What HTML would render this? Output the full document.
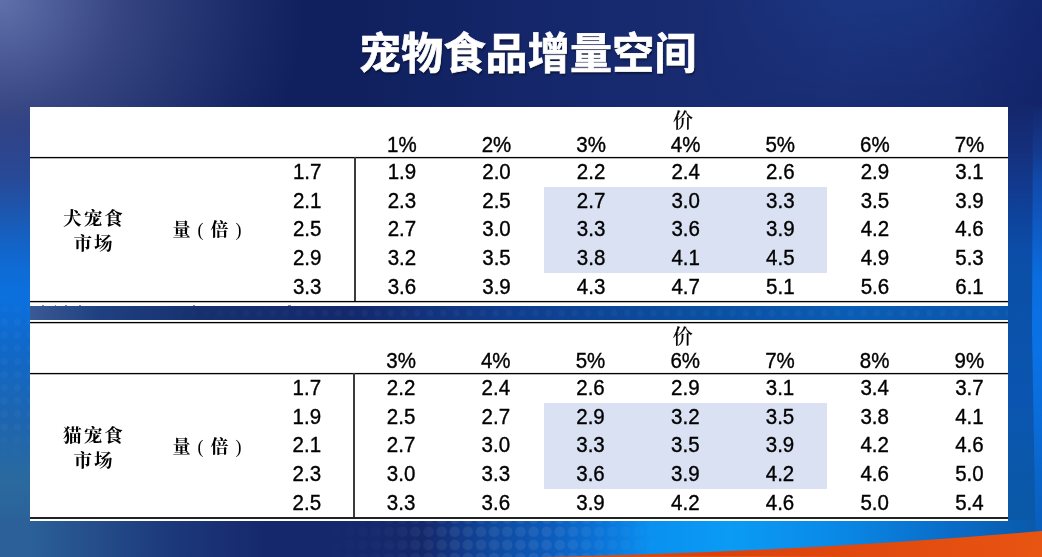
<!DOCTYPE html>
<html lang="zh-CN">
<head>
<meta charset="utf-8">
<title>宠物食品增量空间</title>
<style>
html,body{margin:0;padding:0;}
body{width:1042px;height:557px;overflow:hidden;position:relative;background:#17286a;font-family:"Liberation Sans","Noto Sans CJK SC",sans-serif;}
#bg{position:absolute;left:0;top:0;width:1042px;height:557px;overflow:hidden;
 background:
  radial-gradient(ellipse 305px 290px at 0px 0px, rgba(104,120,178,0.91) 0%, rgba(104,120,178,0.43) 39%, rgba(104,120,178,0.25) 61%, rgba(104,120,178,0.1) 82%, rgba(104,120,178,0) 100%),
  linear-gradient(90deg,#11205f 0%,#10205e 34%,#172a70 60%,#1a2e75 80%,#182b71 91%,#13246a 100%);}
#bg div{position:absolute;}
#b-left{left:0;top:107px;width:31px;height:450px;
 background:linear-gradient(180deg,rgba(50,72,142,0) 0px,rgba(46,70,144,0.85) 40px,#274a98 73px,#1d56ae 103px,#1462c4 133px,#0e6cd6 163px,#0b70de 190px,#1068c8 243px,#1d65b0 313px,#2a6a9f 373px,#2b5f98 423px,#274f8d 450px);}
#b-right{left:1007px;top:107px;width:35px;height:450px;
 background:linear-gradient(180deg,#14276d 0px,#152f7c 43px,#103e95 93px,#0b4da8 143px,#0a50a8 183px,#0b55b0 293px,#0a58a8 393px,#0a58a8 450px);}
#b-mid{left:30px;top:300px;width:978px;height:25px;
 background:linear-gradient(90deg,#3a5a95 0px,#1f4080 70px,#16306f 170px,#14286c 320px,#103c8c 470px,#0a4fa0 670px,#0a5cb4 820px,#0a56ac 978px);}
#b-bot{left:0;top:520px;width:1042px;height:37px;
 background:linear-gradient(90deg,#2b6098 0px,#2b6098 30px,#295a93 50px,#244c89 100px,#1c3a7c 165px,#16286c 265px,#14286c 425px,#113a88 460px,#0f4a9f 494px,#0c5cbc 551px,#0a78dc 609px,#0a90f0 650px,#0a9bf5 730px,#0a8ae8 830px,#0a6cc8 950px,#0a58a8 1042px);}
#swoosh{position:absolute;left:0;top:0;}
#d-mid{left:130px;top:306px;width:878px;height:14px;
 background-image:radial-gradient(circle at 50% 50%,rgba(255,255,255,0.035) 0,rgba(255,255,255,0.035) 3px,rgba(255,255,255,0) 3.8px);
 background-size:13.15px 13.15px;background-position:4.5px 0.6px;-webkit-mask-image:linear-gradient(90deg,transparent 0,#000 25%);mask-image:linear-gradient(90deg,transparent 0,#000 25%);}
#d-bot{left:300px;top:521px;width:370px;height:36px;
 background-image:radial-gradient(circle at 50% 50%,rgba(255,255,255,0.075) 0,rgba(255,255,255,0.075) 4.9px,rgba(255,255,255,0) 5.6px);
 background-size:13.15px 13.15px;background-position:43px 4.2px;
 -webkit-mask-image:linear-gradient(90deg,transparent 0,rgba(0,0,0,0.25) 22%,#000 42%,#000 70%,transparent 100%);mask-image:linear-gradient(90deg,transparent 0,rgba(0,0,0,0.25) 22%,#000 42%,#000 70%,transparent 100%);}
#d-left{left:0;top:290px;width:30px;height:180px;
 background-image:radial-gradient(circle at 50% 50%,rgba(255,255,255,0.03) 0,rgba(255,255,255,0.03) 3.3px,rgba(255,255,255,0) 4px);
 background-size:13.15px 13.15px;background-position:-2.3px -0.8px;
 -webkit-mask-image:linear-gradient(180deg,transparent 0,#000 20%,#000 75%,transparent 100%);mask-image:linear-gradient(180deg,transparent 0,#000 20%,#000 75%,transparent 100%);}
#b-tr{left:700px;top:0;width:342px;height:108px;background:linear-gradient(180deg,rgba(40,100,200,0.16) 0,rgba(40,100,200,0) 100%);-webkit-mask-image:linear-gradient(90deg,transparent 0,#000 45%,#000 65%,rgba(0,0,0,0.25) 100%);mask-image:linear-gradient(90deg,transparent 0,#000 45%,#000 65%,rgba(0,0,0,0.25) 100%);}

#title{position:absolute;left:0;top:25px;width:1055.6px;transform:scaleY(1.035);text-align:center;color:#fff;font-weight:700;font-size:42px;line-height:60px;letter-spacing:0px;font-family:"Liberation Sans","Noto Sans CJK SC",sans-serif;text-shadow:1px 1px 2px rgba(0,0,0,0.5);-webkit-text-stroke:0.7px #fff;letter-spacing:0.2px;}
.tbl{position:absolute;left:30px;width:978px;background:#fff;}
.hl{position:absolute;left:0;width:978px;height:1px;background:#000;box-shadow:0 1px 0 rgba(0,0,0,0.28),0 -1px 0 rgba(0,0,0,0.08);}
.hl.b2{height:2px;background:#222;box-shadow:none;}
.tk{position:absolute;top:198px;height:1px;background:#8a8a8a;}
.vl{position:absolute;width:2px;background:#3c3c3c;}
.hi{position:absolute;left:513.6px;width:283.8px;background:#d9e1f2;}
.c{position:absolute;width:100px;height:28px;line-height:28px;text-align:center;font-size:20.5px;color:#000;white-space:nowrap;transform:scaleY(1.05);-webkit-text-stroke:0.35px #000;}
.c.zh{font-family:"Liberation Serif","Noto Serif CJK SC",serif;font-size:20px;font-weight:500;-webkit-text-stroke:0.15px #000;transform:none;}
.lab,.lab2{position:absolute;width:120px;text-align:center;font-family:"Liberation Serif","Noto Serif CJK SC",serif;font-weight:700;font-size:18px;color:#000;white-space:nowrap;}
.lab{line-height:25.2px;letter-spacing:2px;padding-left:2px;font-size:18.6px;}
.lab2{line-height:28px;letter-spacing:7px;text-align:left;width:auto;}
.lab2 i{font-style:normal;font-weight:400;}
</style>
</head>
<body>
<div id="bg"><div id="b-left"></div><div id="b-right"></div><div id="b-mid"></div><div id="b-bot"></div><div id="d-bot"></div><div id="d-left"></div><div id="d-mid"></div><div id="b-tr"></div>
<svg id="swoosh" width="1042" height="557" viewBox="0 0 1042 557"><defs><linearGradient id="og" x1="0" y1="0" x2="1" y2="0"><stop offset="0" stop-color="#e0500f"/><stop offset="0.35" stop-color="#db400b"/><stop offset="1" stop-color="#e85412"/></linearGradient>
<linearGradient id="rg" gradientUnits="userSpaceOnUse" x1="0" y1="107" x2="0" y2="557"><stop offset="0" stop-color="#1050b5" stop-opacity="0"/><stop offset="0.1" stop-color="#1050b5" stop-opacity="0.3"/><stop offset="0.207" stop-color="#1050b5"/><stop offset="0.384" stop-color="#0a6ee0"/><stop offset="0.54" stop-color="#0a72e6"/><stop offset="0.70" stop-color="#0a6cd8"/><stop offset="0.83" stop-color="#0a64c8"/><stop offset="0.94" stop-color="#0a5ebc"/><stop offset="1" stop-color="#0a5ab4"/></linearGradient></defs>
<polygon points="1033,107 1042,107 1042,557 1036,557 1032,330" fill="url(#rg)"/>
<path d="M540,557 Q800,552 1042,531 L1042,557 Z" fill="url(#og)"/>
<path d="M540,557 Q760,556 860,557 Z" fill="#ea6a1c"/>
</svg></div>
<div id="title">宠物食品增量空间</div>
<div class="tbl" style="top:107px;height:199px">
<div class="hl" style="top:50px"></div>
<div class="hl" style="top:194px"></div>
<div class="vl" style="left:324px;top:50px;height:144px"></div>
<div class="hi" style="top:79.5px;height:86.2px"></div>
<div class="c zh" style="left:603.1px;top:0.20000000000000284px">价</div>
<div class="c" style="left:321.9px;top:24.400000000000006px">1%</div>
<div class="c" style="left:416.5px;top:24.400000000000006px">2%</div>
<div class="c" style="left:511.1px;top:24.400000000000006px">3%</div>
<div class="c" style="left:605.7px;top:24.400000000000006px">4%</div>
<div class="c" style="left:700.3px;top:24.400000000000006px">5%</div>
<div class="c" style="left:794.9px;top:24.400000000000006px">6%</div>
<div class="c" style="left:889.5px;top:24.400000000000006px">7%</div>
<div class="c" style="left:227.2px;top:51.2px">1.7</div>
<div class="c" style="left:321.9px;top:51.2px">1.9</div>
<div class="c" style="left:416.5px;top:51.2px">2.0</div>
<div class="c" style="left:511.1px;top:51.2px">2.2</div>
<div class="c" style="left:605.7px;top:51.2px">2.4</div>
<div class="c" style="left:700.3px;top:51.2px">2.6</div>
<div class="c" style="left:794.9px;top:51.2px">2.9</div>
<div class="c" style="left:889.5px;top:51.2px">3.1</div>
<div class="c" style="left:227.2px;top:79.8px">2.1</div>
<div class="c" style="left:321.9px;top:79.8px">2.3</div>
<div class="c" style="left:416.5px;top:79.8px">2.5</div>
<div class="c" style="left:511.1px;top:79.8px">2.7</div>
<div class="c" style="left:605.7px;top:79.8px">3.0</div>
<div class="c" style="left:700.3px;top:79.8px">3.3</div>
<div class="c" style="left:794.9px;top:79.8px">3.5</div>
<div class="c" style="left:889.5px;top:79.8px">3.9</div>
<div class="c" style="left:227.2px;top:108.4px">2.5</div>
<div class="c" style="left:321.9px;top:108.4px">2.7</div>
<div class="c" style="left:416.5px;top:108.4px">3.0</div>
<div class="c" style="left:511.1px;top:108.4px">3.3</div>
<div class="c" style="left:605.7px;top:108.4px">3.6</div>
<div class="c" style="left:700.3px;top:108.4px">3.9</div>
<div class="c" style="left:794.9px;top:108.4px">4.2</div>
<div class="c" style="left:889.5px;top:108.4px">4.6</div>
<div class="c" style="left:227.2px;top:137.0px">2.9</div>
<div class="c" style="left:321.9px;top:137.0px">3.2</div>
<div class="c" style="left:416.5px;top:137.0px">3.5</div>
<div class="c" style="left:511.1px;top:137.0px">3.8</div>
<div class="c" style="left:605.7px;top:137.0px">4.1</div>
<div class="c" style="left:700.3px;top:137.0px">4.5</div>
<div class="c" style="left:794.9px;top:137.0px">4.9</div>
<div class="c" style="left:889.5px;top:137.0px">5.3</div>
<div class="c" style="left:227.2px;top:165.6px">3.3</div>
<div class="c" style="left:321.9px;top:165.6px">3.6</div>
<div class="c" style="left:416.5px;top:165.6px">3.9</div>
<div class="c" style="left:511.1px;top:165.6px">4.3</div>
<div class="c" style="left:605.7px;top:165.6px">4.7</div>
<div class="c" style="left:700.3px;top:165.6px">5.1</div>
<div class="c" style="left:794.9px;top:165.6px">5.6</div>
<div class="c" style="left:889.5px;top:165.6px">6.1</div>
<div class="lab" style="left:2px;top:99.2px">犬宠食<br>市场</div>
<div class="lab2" style="left:142.5px;top:109.0px">量<i>(</i>倍<i>)</i></div>
<div class="tk" style="left:12px;width:2px"></div>
<div class="tk" style="left:25px;width:1px"></div>
<div class="tk" style="left:35px;width:2px"></div>
<div class="tk" style="left:49px;width:2px"></div>
<div class="tk" style="left:163px;width:2px"></div>
<div class="tk" style="left:258px;width:3px"></div>
</div>
<div class="tbl" style="top:320px;height:201px">
<div class="hl" style="top:2px"></div>
<div class="hl" style="top:53px"></div>
<div class="hl b2" style="top:197px"></div>
<div class="vl" style="left:323px;top:53px;height:144px"></div>
<div class="hi" style="top:82.5px;height:86.2px"></div>
<div class="c zh" style="left:602.7px;top:2.5px">价</div>
<div class="c" style="left:321.1px;top:27.30000000000001px">3%</div>
<div class="c" style="left:415.8px;top:27.30000000000001px">4%</div>
<div class="c" style="left:510.5px;top:27.30000000000001px">5%</div>
<div class="c" style="left:605.3px;top:27.30000000000001px">6%</div>
<div class="c" style="left:700.0px;top:27.30000000000001px">7%</div>
<div class="c" style="left:794.7px;top:27.30000000000001px">8%</div>
<div class="c" style="left:889.4px;top:27.30000000000001px">9%</div>
<div class="c" style="left:226.8px;top:54.2px">1.7</div>
<div class="c" style="left:321.1px;top:54.2px">2.2</div>
<div class="c" style="left:415.8px;top:54.2px">2.4</div>
<div class="c" style="left:510.5px;top:54.2px">2.6</div>
<div class="c" style="left:605.3px;top:54.2px">2.9</div>
<div class="c" style="left:700.0px;top:54.2px">3.1</div>
<div class="c" style="left:794.7px;top:54.2px">3.4</div>
<div class="c" style="left:889.4px;top:54.2px">3.7</div>
<div class="c" style="left:226.8px;top:82.8px">1.9</div>
<div class="c" style="left:321.1px;top:82.8px">2.5</div>
<div class="c" style="left:415.8px;top:82.8px">2.7</div>
<div class="c" style="left:510.5px;top:82.8px">2.9</div>
<div class="c" style="left:605.3px;top:82.8px">3.2</div>
<div class="c" style="left:700.0px;top:82.8px">3.5</div>
<div class="c" style="left:794.7px;top:82.8px">3.8</div>
<div class="c" style="left:889.4px;top:82.8px">4.1</div>
<div class="c" style="left:226.8px;top:111.4px">2.1</div>
<div class="c" style="left:321.1px;top:111.4px">2.7</div>
<div class="c" style="left:415.8px;top:111.4px">3.0</div>
<div class="c" style="left:510.5px;top:111.4px">3.3</div>
<div class="c" style="left:605.3px;top:111.4px">3.5</div>
<div class="c" style="left:700.0px;top:111.4px">3.9</div>
<div class="c" style="left:794.7px;top:111.4px">4.2</div>
<div class="c" style="left:889.4px;top:111.4px">4.6</div>
<div class="c" style="left:226.8px;top:140.0px">2.3</div>
<div class="c" style="left:321.1px;top:140.0px">3.0</div>
<div class="c" style="left:415.8px;top:140.0px">3.3</div>
<div class="c" style="left:510.5px;top:140.0px">3.6</div>
<div class="c" style="left:605.3px;top:140.0px">3.9</div>
<div class="c" style="left:700.0px;top:140.0px">4.2</div>
<div class="c" style="left:794.7px;top:140.0px">4.6</div>
<div class="c" style="left:889.4px;top:140.0px">5.0</div>
<div class="c" style="left:226.8px;top:168.6px">2.5</div>
<div class="c" style="left:321.1px;top:168.6px">3.3</div>
<div class="c" style="left:415.8px;top:168.6px">3.6</div>
<div class="c" style="left:510.5px;top:168.6px">3.9</div>
<div class="c" style="left:605.3px;top:168.6px">4.2</div>
<div class="c" style="left:700.0px;top:168.6px">4.6</div>
<div class="c" style="left:794.7px;top:168.6px">5.0</div>
<div class="c" style="left:889.4px;top:168.6px">5.4</div>
<div class="lab" style="left:2px;top:103.0px">猫宠食<br>市场</div>
<div class="lab2" style="left:142.5px;top:113.2px">量<i>(</i>倍<i>)</i></div>
</div>
</body>
</html>
